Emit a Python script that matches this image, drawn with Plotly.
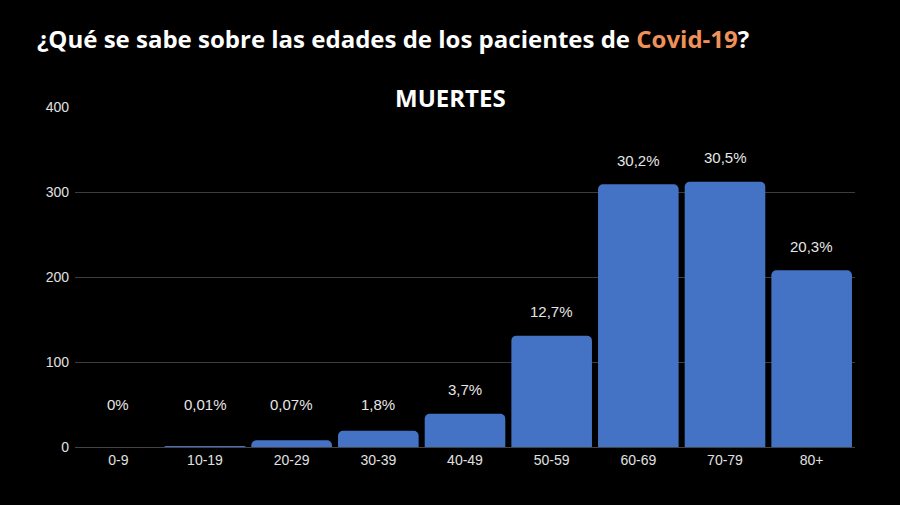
import plotly.graph_objects as go

categories = ["0-9", "10-19", "20-29", "30-39", "40-49", "50-59", "60-69", "70-79", "80+"]
deaths = [0, 1, 8, 19, 39, 131, 309, 312, 208]
pct_labels = ["0%", "0,01%", "0,07%", "1,8%", "3,7%", "12,7%", "30,2%", "30,5%", "20,3%"]
y_ticks = [0, 100, 200, 300, 400]

fig = go.Figure()
fig.add_trace(go.Bar(
    x=categories, y=deaths,
    marker=dict(color="#4472C4", cornerradius=5, line=dict(width=0)),
    hoverinfo="x+y",
))

for c, v, t in zip(categories, deaths, pct_labels):
    fig.add_annotation(x=c, y=max(v, 22), text=t, showarrow=False,
                       yanchor="middle", yshift=24,
                       font=dict(family="Liberation Sans", size=15, color="#e6e6e6"))

fig.add_annotation(xref="paper", yref="paper", x=0.481, y=1.0, yanchor="bottom", yshift=-9,
                   text="<b>MUERTES</b>", showarrow=False,
                   font=dict(family="Open Sans", size=24, color="white"))

fig.update_layout(
    width=900, height=505,
    paper_bgcolor="black", plot_bgcolor="black",
    margin=dict(l=75, r=45, t=107, b=58),
    bargap=0.07,
    showlegend=False,
    title=dict(
        text="<b>¿Qué se sabe sobre las edades de los pacientes de <span style='color:#F0915A'>Covid-19</span>?</b>",
        x=0.041, xanchor="left", y=0.922, yanchor="middle",
        font=dict(family="Open Sans", size=24, color="white"),
    ),
    xaxis=dict(showgrid=False, showline=True, linecolor="#444", linewidth=1,
               tickfont=dict(family="Liberation Sans", size=14, color="#e0e0e0"), ticks="",
               fixedrange=True),
    yaxis=dict(range=[0, 400], tickvals=y_ticks, showgrid=True, gridcolor="#3c3c3c",
               gridwidth=1, zeroline=False,
               tickfont=dict(family="Liberation Sans", size=14, color="#e0e0e0"), ticks="",
               ticklabelstandoff=5),
)

fig.write_html("out.html", config={"displayModeBar": False},
               post_script="document.body.style.margin='0';document.body.style.background='black';")
